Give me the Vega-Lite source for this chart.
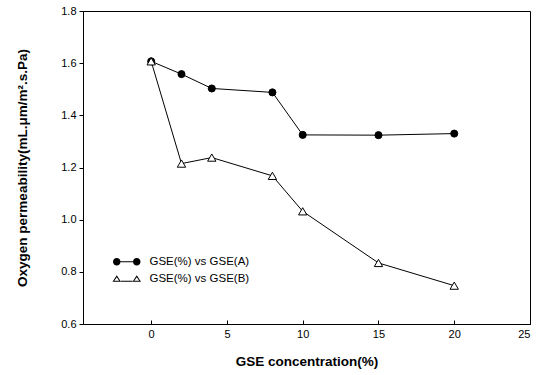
{
  "$schema": "https://vega.github.io/schema/vega-lite/v6.json",
  "width": 447,
  "height": 313,
  "autosize": "none",
  "padding": {"left": 83, "top": 11, "right": 15, "bottom": 51},
  "background": "white",
  "config": {
    "view": {"stroke": "black", "strokeWidth": 1},
    "font": "Liberation Sans",
    "axis": {"domainColor": "black", "tickColor": "black", "labelColor": "black", "titleColor": "black", "grid": false, "labelFontSize": 11, "titleFontSize": 13.5, "titleFontWeight": "bold", "labelFont": "Liberation Sans", "titleFont": "Liberation Sans"}
  },
  "data": {"values": [
    {"x": 0, "y": 1.607, "series": "GSE(%) vs GSE(A)"},
    {"x": 2, "y": 1.558, "series": "GSE(%) vs GSE(A)"},
    {"x": 4, "y": 1.503, "series": "GSE(%) vs GSE(A)"},
    {"x": 8, "y": 1.488, "series": "GSE(%) vs GSE(A)"},
    {"x": 10, "y": 1.325, "series": "GSE(%) vs GSE(A)"},
    {"x": 15, "y": 1.324, "series": "GSE(%) vs GSE(A)"},
    {"x": 20, "y": 1.330, "series": "GSE(%) vs GSE(A)"},
    {"x": 0, "y": 1.607, "series": "GSE(%) vs GSE(B)"},
    {"x": 2, "y": 1.215, "series": "GSE(%) vs GSE(B)"},
    {"x": 4, "y": 1.238, "series": "GSE(%) vs GSE(B)"},
    {"x": 8, "y": 1.168, "series": "GSE(%) vs GSE(B)"},
    {"x": 10, "y": 1.032, "series": "GSE(%) vs GSE(B)"},
    {"x": 15, "y": 0.834, "series": "GSE(%) vs GSE(B)"},
    {"x": 20, "y": 0.747, "series": "GSE(%) vs GSE(B)"}
  ]},
  "encoding": {
    "x": {"field": "x", "type": "quantitative", "scale": {"domain": [-4.5, 25], "nice": false, "zero": false},
      "axis": {"title": "GSE concentration(%)", "values": [0, 5, 10, 15, 20, 25], "tickSize": -4, "labelPadding": 8, "titlePadding": 15, "domain": true}},
    "y": {"field": "y", "type": "quantitative", "scale": {"domain": [0.6, 1.8], "nice": false, "zero": false},
      "axis": {"title": "Oxygen permeability(mL.μm/m².s.Pa)", "values": [0.6, 0.8, 1.0, 1.2, 1.4, 1.6, 1.8], "format": ".1f", "tickSize": 4, "labelPadding": 3, "titlePadding": 31}}
  },
  "layer": [
    {
      "mark": {"type": "line", "color": "black", "strokeWidth": 1},
      "encoding": {"detail": {"field": "series"}}
    },
    {
      "mark": {"type": "point", "filled": false, "stroke": "black", "strokeWidth": 1, "opacity": 1},
      "encoding": {
        "shape": {"field": "series", "type": "nominal",
          "scale": {"domain": ["GSE(%) vs GSE(A)", "GSE(%) vs GSE(B)"], "range": ["circle", "triangle-up"]}, "legend": null},
        "fill": {"field": "series", "type": "nominal",
          "scale": {"domain": ["GSE(%) vs GSE(A)", "GSE(%) vs GSE(B)"], "range": ["black", "white"]}, "legend": null},
        "size": {"condition": {"test": "datum.series === 'GSE(%) vs GSE(A)'", "value": 50}, "value": 70},
        "order": {"field": "series", "type": "nominal", "sort": "ascending"}
      }
    },
    {
      "mark": {"type": "point", "filled": true, "color": "black", "strokeWidth": 0, "opacity": 0},
      "encoding": {
        "shape": {"field": "series", "type": "nominal",
          "scale": {"domain": ["GSE(%) vs GSE(A)", "GSE(%) vs GSE(B)"], "range": [
            "M-2.75,0 A0.75,0.75 0 1,0 -1.25,0 A0.75,0.75 0 1,0 -2.75,0 Z M1.25,0 A0.75,0.75 0 1,0 2.75,0 A0.75,0.75 0 1,0 1.25,0 Z M-1.25,-0.1 L1.25,-0.1 L1.25,0.1 L-1.25,0.1 Z",
            "M-2,-0.7 L-1.15,0.6 L-2.85,0.6 Z M-2,-0.3 L-2.5,0.4 L-1.5,0.4 Z M2,-0.7 L2.85,0.6 L1.15,0.6 Z M2,-0.3 L1.5,0.4 L2.5,0.4 Z M-1.15,0.4 L1.15,0.4 L1.15,0.6 L-1.15,0.6 Z"
          ]},
          "legend": {
            "title": null, "orient": "none", "legendX": 38, "legendY": 245,
            "labelFontSize": 11.5, "labelFont": "Liberation Sans", "labelColor": "black",
            "symbolSize": 100, "rowPadding": 4, "labelOffset": 17, "padding": 0,
            "symbolFillColor": "black", "symbolStrokeWidth": 0, "symbolOpacity": 1
          }},
        "size": {"value": 10}
      }
    }
  ],
  "resolve": {"scale": {"shape": "independent"}, "legend": {"shape": "independent"}}
}
